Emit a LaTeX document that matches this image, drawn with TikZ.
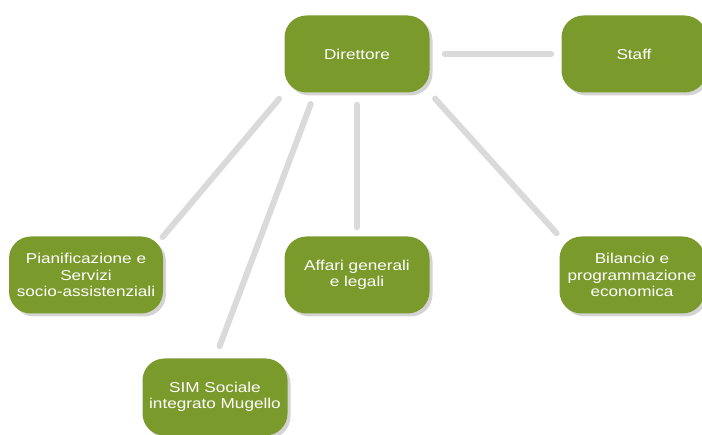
\documentclass[tikz,border=0pt]{standalone}
\usepackage{fontspec}
\newfontfamily\boxfont[FakeStretch=1.2]{Liberation Sans}
\usetikzlibrary{shadows}
\definecolor{boxgreen}{RGB}{122,155,44}
\definecolor{linkgray}{RGB}{218,218,218}
\tikzset{
  unit/.style={draw=none,fill=boxgreen,rounded corners=22pt,minimum width=145pt,minimum height=77pt,
    align=center,text=white,font=\boxfont\fontsize{14.3}{16.5}\selectfont,
    drop shadow={opacity=0.35,shadow xshift=3pt,shadow yshift=-3pt}},
  link/.style={draw=linkgray,line width=6pt,line cap=round}
}
\begin{document}
\begin{tikzpicture}[x=1pt,y=-1pt]
            \useasboundingbox (0,0) rectangle (702,435);
            \node[unit] (dir) at (357,54) {Direttore};
            \node[unit] (staff) at (634,54) {Staff};
            \node[unit,minimum width=154pt] (pian) at (86,275) {Pianificazione e\\Servizi\\socio-assistenziali};
            \node[unit] (aff) at (357,275) {Affari generali\\e legali};
            \node[unit] (bil) at (632,275) {Bilancio e\\programmazione\\economica};
            \node[unit] (sim) at (215,397) {SIM Sociale\\integrato Mugello};
            \draw[link,shorten <=15pt,shorten >=10pt] (dir.east) -- (staff.west);
            \draw[link,shorten <=8pt,shorten >=-1pt] (dir.south west) -- (pian.north east);
            \draw[link,shorten <=12pt,shorten >=13pt] ([xshift=-42pt]dir.south) -- (sim.north);
            \draw[link,shorten <=12pt,shorten >=9pt] (dir.south) -- (aff.north);
            \draw[link,shorten <=8pt,shorten >=4pt] (dir.south east) -- (bil.north west);
        \end{tikzpicture}
\end{document}
